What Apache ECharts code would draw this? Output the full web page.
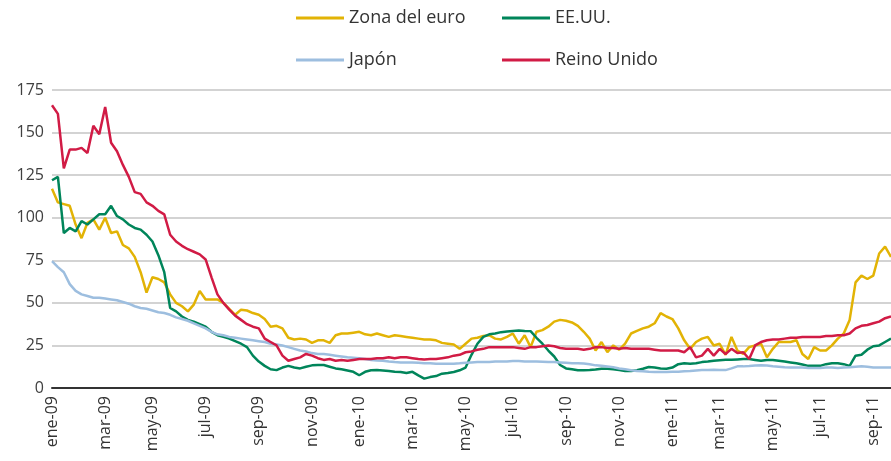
<!DOCTYPE html>
<html>
<head>
<meta charset="utf-8">
<script src="https://cdn.jsdelivr.net/npm/echarts@6/dist/echarts.min.js"></script>
<style>
  html, body { margin: 0; padding: 0; background: #fff; }
  #chart { width: 891px; height: 461px; }
</style>
</head>
<body>
<div id="chart"></div>
<script>
  // weekly observations, first one on 2 Jan 2009
  var startDate = '2009-01-02';
  var meses = ['ene', 'feb', 'mar', 'abr', 'may', 'jun', 'jul', 'ago', 'sep', 'oct', 'nov', 'dic'];

  var zonaEuro = [
    117, 109, 108, 107, 96, 88, 97, 99, 93, 100,
    91, 92, 84, 82, 77, 68, 56, 65, 64, 62,
    55, 50, 48, 45, 49, 57, 52, 52, 52, 50,
    46.5, 43, 46, 45.5, 44, 43, 40.5, 36, 36.5, 35,
    29.5, 28.5, 29, 28.5, 26.5, 28, 28, 26.5, 31, 32,
    32, 32.5, 33, 31.5, 31, 32, 31, 30, 31, 30.5,
    30, 29.5, 29, 28.5, 28.5, 28, 26.5, 26, 25.5, 23,
    26, 29, 29.5, 30.5, 31, 29, 28.5, 30, 32, 26,
    31, 24, 33, 34, 36, 39, 40, 39.5, 38.5, 36.5,
    33, 29, 22, 27, 21, 25, 22.5, 26, 32, 33.5,
    35, 36, 38, 44, 42, 40.5, 35, 28, 23, 27,
    29, 30, 25, 26, 19.5, 30, 22, 20, 24, 25,
    26, 18, 23, 27, 27, 27, 28, 20, 17, 24,
    22, 22, 25, 29, 32, 40, 62, 66, 64, 66,
    79, 83, 77
  ];

  var eeuu = [
    122, 124, 91, 94, 92, 98, 96, 99, 102, 102,
    107, 101, 99, 96, 94, 93, 90, 86, 78, 68,
    47, 45, 42, 40, 39, 37.5, 36, 33, 31, 30,
    29, 27.5, 26, 24, 19, 15.5, 13, 11, 10.5, 12,
    13, 12, 11.5, 12.5, 13.3, 13.5, 13.5, 12.5, 11.5, 11,
    10.3, 9.5, 7.5, 9.5, 10.4, 10.5, 10.3, 10, 9.5, 9.4,
    8.8, 9.5, 7.4, 5.5, 6.4, 7, 8.4, 8.8, 9.4, 10.4,
    12, 19.5, 26, 30, 31.5, 32, 32.8, 33.2, 33.5, 33.8,
    33.5, 33.4, 29.5, 26, 22, 18.5, 13.5, 11.5, 11, 10.4,
    10.4, 10.5, 10.8, 11.3, 11.3, 11, 10.5, 10, 10, 10.4,
    11.3, 12.3, 12, 11.5, 11.3, 12, 14, 14.5, 14.3, 14.5,
    15.2, 15.5, 16, 16.3, 16.6, 16.6, 16.8, 17, 17, 16.5,
    16, 16.5, 16.5, 16, 15.5, 15, 14.5, 13.8, 13, 13,
    13, 14, 14.5, 14.5, 14, 13, 19, 19.5, 22.5, 24.5,
    25, 27, 29
  ];

  var japon = [
    74.5, 71, 68, 61, 57, 55, 54, 53, 53, 52.5,
    52, 51.5, 50.5, 49.5, 48, 47, 46.5, 45.5, 44.5, 44,
    43, 41.5, 40.5, 39.5, 38, 36.5, 35, 33, 31.5, 31,
    30, 29.5, 29, 28.5, 28, 27.5, 27, 26, 25.5, 25,
    24, 23, 22, 21.5, 20.5, 20, 20, 19.5, 19, 18.5,
    18, 17.8, 17.5, 17, 16.5, 16.2, 16, 15.5, 15.2, 15,
    15, 15, 14.8, 14.6, 14.5, 14.3, 14.3, 14.3, 14.3, 14.5,
    14.8, 15, 15.2, 15.2, 15.2, 15.5, 15.6, 15.6, 15.8, 15.8,
    15.6, 15.6, 15.5, 15.4, 15.2, 15.2, 15, 14.8, 14.6, 14.6,
    14.4, 14, 13.3, 13, 12.6, 12.2, 11.5, 11, 10.4, 10,
    9.8, 9.5, 9.4, 9.4, 9.4, 9.5, 9.6, 9.8, 10, 10.3,
    10.5, 10.6, 10.7, 10.5, 10.5, 11.5, 12.7, 12.7, 12.9, 13.2,
    13.3, 13.2, 12.8, 12.5, 12.2, 12, 12, 12, 11.8, 11.8,
    11.8, 12, 12, 11.8, 12, 12.2, 12.5, 12.8, 12.5, 12,
    12, 12, 12
  ];

  var reinoUnido = [
    166, 161, 129, 140, 140, 141, 138, 154, 149, 165,
    144, 139, 131, 124, 115, 114, 109, 107, 104, 102,
    90, 86, 83.5, 81.5, 80, 78.5, 75.5, 65, 55, 50,
    46, 42.5, 40, 37.5, 36, 35, 29, 27, 25, 19,
    16, 17, 18, 20, 19, 17.5, 16.5, 17, 16, 16.5,
    16, 16.5, 17, 17, 17, 17.5, 17.5, 18, 17.5, 18,
    18, 17.5, 17, 16.8, 17, 17, 17.5, 18, 19, 19.5,
    21, 21.5, 22.5, 23, 24, 24, 24, 24, 24, 23.5,
    23, 24, 24, 24.5, 25, 24.5, 23.5, 23, 23, 23,
    22.5, 23, 24, 24, 23.5, 23.5, 23, 23.5, 23, 23,
    23, 23, 22.5, 22, 22, 22, 22, 21, 24, 18,
    19, 23, 19, 23, 20, 23, 20.5, 21, 17, 25,
    27, 28, 28.5, 28.5, 29, 29.5, 29.5, 30, 30, 30,
    30, 30.5, 30.5, 31, 31, 32, 35, 36.5, 37, 38,
    39, 41, 42
  ];

  var yTicks = [0, 25, 50, 75, 100, 125, 150, 175];

  // weekly date labels for the category axis
  var fechas = [];
  var t0 = Date.parse(startDate + 'T00:00:00Z');
  for (var i = 0; i < reinoUnido.length; i++) {
    fechas.push(new Date(t0 + i * 7 * 86400000).toISOString().slice(0, 10));
  }

  var chart = echarts.init(document.getElementById('chart'));

  function leyenda(nombre, left, top) {
    return {
      data: [nombre],
      left: left,
      top: top,
      padding: 0,
      icon: 'rect',
      itemWidth: 48,
      itemHeight: 3,
      itemGap: 0,
      selectedMode: false,
      textStyle: { fontFamily: 'Open Sans', fontSize: 18, color: '#333', padding: [0, 0, 0, 0] }
    };
  }

  function serie(nombre, datos, color) {
    return {
      name: nombre,
      type: 'line',
      data: datos,
      showSymbol: false,
      symbol: 'none',
      lineStyle: { width: 2.5, color: color },
      itemStyle: { color: color }
    };
  }

  var option = {
    animation: false,
    backgroundColor: '#fff',
    legend: [
      leyenda('Zona del euro', 296, 9),
      leyenda('EE.UU.', 502, 9),
      leyenda('Japón', 296, 51),
      leyenda('Reino Unido', 502, 51)
    ],
    grid: {
      left: 52,
      right: 0,
      top: 90,
      bottom: 73,
      containLabel: false,
      outerBoundsMode: 'none'
    },
    xAxis: {
      type: 'category',
      data: fechas,
      boundaryGap: false,
      axisLine: { lineStyle: { color: '#333', width: 2 } },
      axisTick: { show: false },
      splitLine: { show: false },
      axisLabel: {
        rotate: 90,
        margin: 8,
        fontFamily: 'Open Sans',
        fontSize: 16,
        color: '#333',
        interval: function (idx, val) {
          var d = new Date(val + 'T00:00:00Z');
          return d.getUTCDate() <= 7 && d.getUTCMonth() % 2 === 0;
        },
        formatter: function (val) {
          var d = new Date(val + 'T00:00:00Z');
          return meses[d.getUTCMonth()] + '-' + String(d.getUTCFullYear()).slice(2);
        }
      }
    },
    yAxis: {
      type: 'value',
      min: yTicks[0],
      max: yTicks[yTicks.length - 1],
      interval: 25,
      axisLine: { show: false },
      axisTick: { show: false },
      axisLabel: { margin: 8, fontFamily: 'Open Sans', fontSize: 16, color: '#404040' },
      splitLine: { lineStyle: { color: '#c4c4c4', width: 1.5 } }
    },
    series: [
      serie('Zona del euro', zonaEuro, '#e2b305'),
      serie('EE.UU.', eeuu, '#00855a'),
      serie('Japón', japon, '#9dbedf'),
      serie('Reino Unido', reinoUnido, '#d11b45')
    ]
  };

  chart.setOption(option);
</script>
</body>
</html>
